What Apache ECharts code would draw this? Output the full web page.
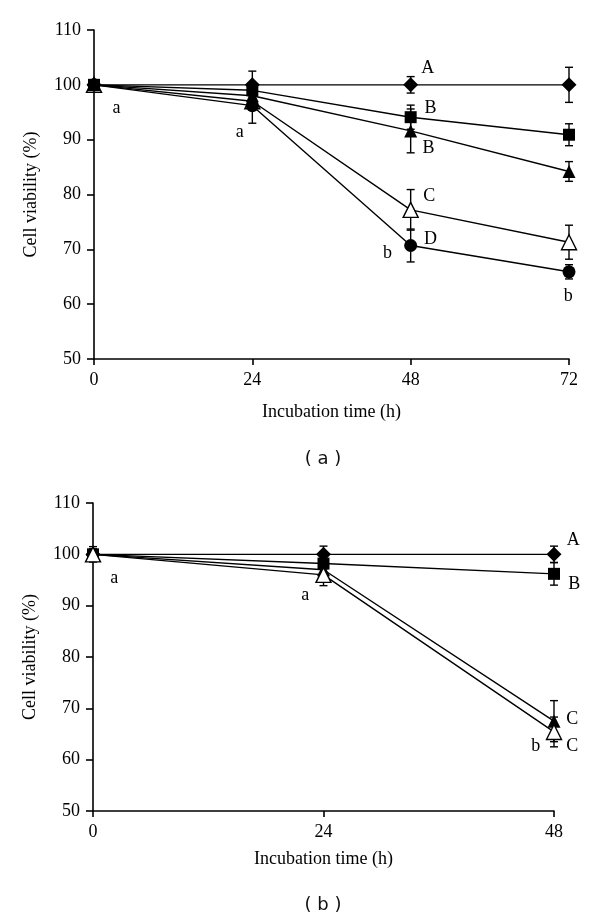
<!DOCTYPE html>
<html><head><meta charset="utf-8">
<script src="https://cdn.jsdelivr.net/npm/echarts@6/dist/echarts.min.js"></script>
<style>html,body{margin:0;padding:0;background:#fff}#c{width:600px;height:921px}</style>
</head><body><div id="c"></div>
<script>
// ---------- Panel (a) ----------
const timesA = [0, 24, 48, 72];
const a_diamond = [100, 100, 100, 100];
const a_diamond_err = [0.6, 2.5, 1.5, 3.2];
const a_square = [100, 99, 94.1, 90.9];
const a_square_err = [0.5, 1.0, 2.2, 2.0];
const a_triFilled = [100, 98, 91.6, 84.2];
const a_triFilled_err = [0.5, 1.0, 4.0, 1.8];
const a_triOpen = [100, 97, 77.2, 71.3];
const a_triOpen_err = [0.5, 1.0, 3.7, 3.1];
const a_circle = [100, 96.2, 70.7, 65.9];
const a_circle_err = [0.5, 3.2, 3.0, 1.3];
const annotA_x = [3.4, 22.1, 50.6, 51.0, 50.7, 50.8, 51.0, 44.5, 71.9];
const annotA_y = [95.7, 91.3, 103.1, 95.8, 88.5, 79.6, 71.9, 69.2, 61.4];
const annotA_t = ['a', 'a', 'A', 'B', 'B', 'C', 'D', 'b', 'b'];

// ---------- Panel (b) ----------
const timesB = [0, 24, 48];
const b_diamond = [100, 100, 100];
const b_diamond_err = [1.0, 1.6, 1.6];
const b_square = [100, 98.2, 96.2];
const b_square_err = [1.0, 1.0, 2.2];
const b_triFilled = [100, 97, 67.5];
const b_triFilled_err = [1.5, 1.0, 4.0];
const b_triOpen = [100, 96, 65.4];
const b_triOpen_err = [1.0, 2.1, 2.9];
const annotB_x = [2.2, 22.1, 50.0, 50.1, 49.9, 49.9, 46.1];
const annotB_y = [95.4, 92.1, 102.8, 94.1, 67.9, 62.6, 62.6];
const annotB_t = ['a', 'a', 'A', 'B', 'C', 'C', 'b'];

const yMin = 50, yMax = 110, yStep = 10;
const xStep = 24;

const SERIF = '"Liberation Serif", "Times New Roman", serif';
const FS = 18;
const pairs = (xs, ys) => xs.map((x, i) => [x, ys[i]]);
const triples = (xs, ys, es) => xs.map((x, i) => [x, ys[i], es[i]]);

function errRender(params, api) {
  const x = api.value(0), y = api.value(1), e = api.value(2);
  const t = api.coord([x, y + e]), b = api.coord([x, y - e]);
  const hw = 4, st = {stroke: '#000', lineWidth: 1.4};
  return {type: 'group', children: [
    {type: 'line', shape: {x1: t[0], y1: t[1], x2: b[0], y2: b[1]}, style: st},
    {type: 'line', shape: {x1: t[0] - hw, y1: t[1], x2: t[0] + hw, y2: t[1]}, style: st},
    {type: 'line', shape: {x1: b[0] - hw, y1: b[1], x2: b[0] + hw, y2: b[1]}, style: st}
  ]};
}
function textRender(params, api) {
  const p = api.coord([api.value(0), api.value(1)]);
  return {type: 'text', x: p[0], y: p[1], style: {
    text: params.context.texts[params.dataIndex], fill: '#000',
    font: FS + 'px ' + SERIF, align: 'center', verticalAlign: 'middle'}};
}

function lineSeries(idx, xs, ys, symbol, size, open, z) {
  return {type: 'line', xAxisIndex: idx, yAxisIndex: idx, data: pairs(xs, ys),
    symbol: symbol, symbolSize: size, showSymbol: true, z: z,
    lineStyle: {color: '#000', width: 1.4},
    itemStyle: open ? {color: '#fff', borderColor: '#000', borderWidth: 1.4} : {color: '#000', borderColor: '#000', borderWidth: 0},
    emphasis: {disabled: true}, animation: false};
}
function errSeries(idx, xs, ys, es) {
  return {type: 'custom', xAxisIndex: idx, yAxisIndex: idx, data: triples(xs, ys, es),
    renderItem: errRender, z: 2, animation: false, silent: true};
}
function textSeries(idx, xs, ys, ts) {
  return {type: 'custom', xAxisIndex: idx, yAxisIndex: idx, data: pairs(xs, ys),
    renderItem: function (params, api) { params.context.texts = ts; return textRender(params, api); },
    z: 6, animation: false, silent: true, clip: false};
}

const axisLineStyle = {show: true, onZero: false, lineStyle: {color: '#000', width: 1.6}};
function xAxis(idx, max, gap) {
  return {type: 'value', gridIndex: idx, min: 0, max: max, interval: xStep,
    axisLine: axisLineStyle, axisTick: {show: true, length: 6, lineStyle: {color: '#000', width: 1.6}},
    splitLine: {show: false},
    axisLabel: {color: '#000', fontFamily: SERIF, fontSize: FS, margin: 12},
    name: 'Incubation time (h)', nameLocation: 'middle', nameGap: gap,
    nameTextStyle: {color: '#000', fontFamily: SERIF, fontSize: FS}};
}
function yAxis(idx) {
  return {type: 'value', gridIndex: idx, min: yMin, max: yMax, interval: yStep,
    axisLine: axisLineStyle, axisTick: {show: true, length: 7, lineStyle: {color: '#000', width: 1.6}},
    splitLine: {show: false},
    axisLabel: {color: '#000', fontFamily: SERIF, fontSize: FS, margin: 13},
    name: 'Cell viability (%)', nameLocation: 'middle', nameGap: 54,
    nameTextStyle: {color: '#000', fontFamily: SERIF, fontSize: FS}};
}

const chart = echarts.init(document.getElementById('c'), null, {renderer: 'canvas'});
chart.setOption({
  backgroundColor: '#fff',
  animation: false,
  grid: [
    {left: 94, top: 30, width: 475, height: 329},
    {left: 93, top: 503, width: 461, height: 308}
  ],
  xAxis: [xAxis(0, 72, 44), xAxis(1, 48, 39)],
  yAxis: [yAxis(0), yAxis(1)],
  graphic: [
    {type: 'text', x: 323, y: 459, style: {text: '( a )', font: '18px "DejaVu Sans", sans-serif', fill: '#111', align: 'center', verticalAlign: 'middle'}},
    {type: 'text', x: 323, y: 905, style: {text: '( b )', font: '18px "DejaVu Sans", sans-serif', fill: '#111', align: 'center', verticalAlign: 'middle'}}
  ],
  series: [
    errSeries(0, timesA, a_diamond, a_diamond_err),
    errSeries(0, timesA, a_square, a_square_err),
    errSeries(0, timesA, a_triFilled, a_triFilled_err),
    errSeries(0, timesA, a_triOpen, a_triOpen_err),
    errSeries(0, timesA, a_circle, a_circle_err),
    lineSeries(0, timesA, a_triOpen, 'triangle', 15, true, 3),
    lineSeries(0, timesA, a_circle, 'circle', 13, false, 3),
    lineSeries(0, timesA, a_triFilled, 'triangle', 13, false, 3),
    lineSeries(0, timesA, a_square, 'rect', 12, false, 3),
    lineSeries(0, timesA, a_diamond, 'diamond', 15, false, 3),
    textSeries(0, annotA_x, annotA_y, annotA_t),

    errSeries(1, timesB, b_diamond, b_diamond_err),
    errSeries(1, timesB, b_square, b_square_err),
    errSeries(1, timesB, b_triFilled, b_triFilled_err),
    errSeries(1, timesB, b_triOpen, b_triOpen_err),
    lineSeries(1, timesB, b_diamond, 'diamond', 15, false, 3),
    lineSeries(1, timesB, b_square, 'rect', 12, false, 3),
    lineSeries(1, timesB, b_triFilled, 'triangle', 13, false, 3),
    lineSeries(1, timesB, b_triOpen, 'triangle', 15, true, 4),
    textSeries(1, annotB_x, annotB_y, annotB_t)
  ]
});
</script></body></html>
